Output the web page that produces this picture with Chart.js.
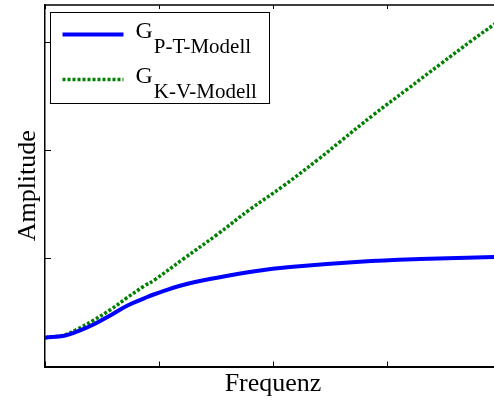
<!DOCTYPE html>
<html>
<head>
<meta charset="utf-8">
<script src="https://cdn.jsdelivr.net/npm/chart.js@4.4.1/dist/chart.umd.min.js"></script>
<style>
  html, body { margin: 0; padding: 0; background: #fff; overflow: hidden; }
</style>
</head>
<body>
<canvas id="amplitudengang" width="502" height="401"></canvas>
<script>
const frequenz_pt = [0, 0.17, 0.28, 0.43, 0.58, 0.72, 0.87, 0.96, 1.21, 1.51, 1.84, 2.15, 2.76, 3.29, 3.94, 4.0];
const amplitude_pt = [0.267, 0.285, 0.322, 0.391, 0.477, 0.563, 0.631, 0.669, 0.755, 0.822, 0.882, 0.921, 0.970, 0.995, 1.014, 1.015];

const frequenz_kv = [0, 0.17, 0.28, 0.43, 0.58, 0.72, 0.87, 0.96, 1.21, 1.51, 1.80, 2.09, 2.39, 2.59, 2.88, 3.18, 3.47, 3.75, 3.94, 4.0];
const amplitude_kv = [0.267, 0.292, 0.344, 0.431, 0.530, 0.637, 0.745, 0.801, 0.993, 1.222, 1.456, 1.671, 1.912, 2.083, 2.329, 2.569, 2.801, 3.023, 3.167, 3.213];

const legende = [
    { haupt: 'G', index: 'P-T-Modell' },
    { haupt: 'G', index: 'K-V-Modell' }
];

const x_ticks = [0, 1, 2, 3, 4];
const y_ticks = [0, 1, 2, 3];

const schrift = "'Liberation Serif', 'Times New Roman', serif";

function punkte(xs, ys) {
    return xs.map((x, i) => ({ x: x, y: ys[i] }));
}

// Rahmen oben, Striche nach innen und Legende mit tiefgestelltem Index
const rahmen_plugin = {
    id: 'rahmen',
    afterDraw(chart) {
        const ctx = chart.ctx;
        const a = chart.chartArea;
        const sx = chart.scales.x;
        const sy = chart.scales.y;
        ctx.save();
        ctx.strokeStyle = '#000';
        ctx.lineWidth = 1.5;
        ctx.beginPath();
        ctx.moveTo(a.left, a.top);
        ctx.lineTo(a.right, a.top);
        ctx.moveTo(a.right, a.top);
        ctx.lineTo(a.right, a.bottom);
        ctx.stroke();

        ctx.lineWidth = 1;
        ctx.beginPath();
        x_ticks.forEach(v => {
            const px = Math.round(sx.getPixelForValue(v)) + 0.5;
            ctx.moveTo(px, a.bottom);
            ctx.lineTo(px, a.bottom - 5);
            ctx.moveTo(px, a.top);
            ctx.lineTo(px, a.top + 4);
        });
        y_ticks.forEach(v => {
            const py = Math.round(sy.getPixelForValue(v)) + 0.5;
            ctx.moveTo(a.left, py);
            ctx.lineTo(a.left + 6, py);
            ctx.moveTo(a.right, py);
            ctx.lineTo(a.right - 6, py);
        });
        ctx.stroke();

        // Legende
        const lx = a.left + 5.5, ly = a.top + 7.5, lw = 219, lh = 91;
        ctx.fillStyle = '#fff';
        ctx.fillRect(lx, ly, lw, lh);
        ctx.strokeStyle = '#000';
        ctx.lineWidth = 1;
        ctx.strokeRect(lx, ly, lw, lh);

        chart.data.datasets.forEach((ds, i) => {
            const yy = ly + 22 + i * 45;
            ctx.strokeStyle = ds.borderColor;
            ctx.lineWidth = ds.borderWidth;
            ctx.setLineDash(ds.borderDash || []);
            ctx.beginPath();
            ctx.moveTo(lx + 12, yy);
            ctx.lineTo(lx + 73, yy);
            ctx.stroke();
            ctx.setLineDash([]);

            ctx.fillStyle = '#000';
            ctx.textBaseline = 'alphabetic';
            ctx.textAlign = 'left';
            ctx.font = '24px ' + schrift;
            ctx.fillText(legende[i].haupt, lx + 85, yy + 3.5);
            const gw = ctx.measureText(legende[i].haupt).width;
            ctx.font = '21px ' + schrift;
            ctx.fillText(legende[i].index, lx + 85 + gw + 1, yy + 18);
        });
        ctx.restore();
    }
};

const ctx_amp = document.getElementById('amplitudengang').getContext('2d');
const graf_amplitude = new Chart(ctx_amp, {
    type: 'line',
    data: {
        datasets: [{
            label: 'G P-T-Modell',
            data: punkte(frequenz_pt, amplitude_pt),
            borderColor: '#0000ff',
            borderWidth: 4,
            pointRadius: 0,
            tension: 0.4,
            fill: false
        }, {
            label: 'G K-V-Modell',
            data: punkte(frequenz_kv, amplitude_kv),
            borderColor: '#008000',
            borderWidth: 3.5,
            borderDash: [3, 2],
            borderCapStyle: 'butt',
            pointRadius: 0,
            tension: 0.4,
            fill: false
        }]
    },
    options: {
        responsive: false,
        animation: false,
        devicePixelRatio: 1,
        layout: {
            padding: { top: 5, right: 1, left: 0, bottom: 0 }
        },
        plugins: {
            legend: { display: false },
            tooltip: { enabled: false }
        },
        scales: {
            x: {
                type: 'linear',
                min: 0,
                max: 4,
                ticks: { display: false, stepSize: 1 },
                grid: { display: false, drawTicks: false },
                border: { display: true, color: '#000', width: 2 },
                title: {
                    display: true,
                    text: 'Frequenz',
                    color: '#000',
                    font: { family: schrift, size: 26 },
                    padding: { top: 2.3, bottom: 1 }
                }
            },
            y: {
                min: 0,
                max: 3.347,
                ticks: { display: false, stepSize: 1 },
                grid: { display: false, drawTicks: false },
                border: { display: true, color: '#000', width: 1.5 },
                title: {
                    display: true,
                    text: 'Amplitude',
                    color: '#000',
                    font: { family: schrift, size: 26 },
                    padding: { top: 12.4, bottom: 1.4 }
                }
            }
        }
    },
    plugins: [rahmen_plugin]
});
</script>
</body>
</html>
